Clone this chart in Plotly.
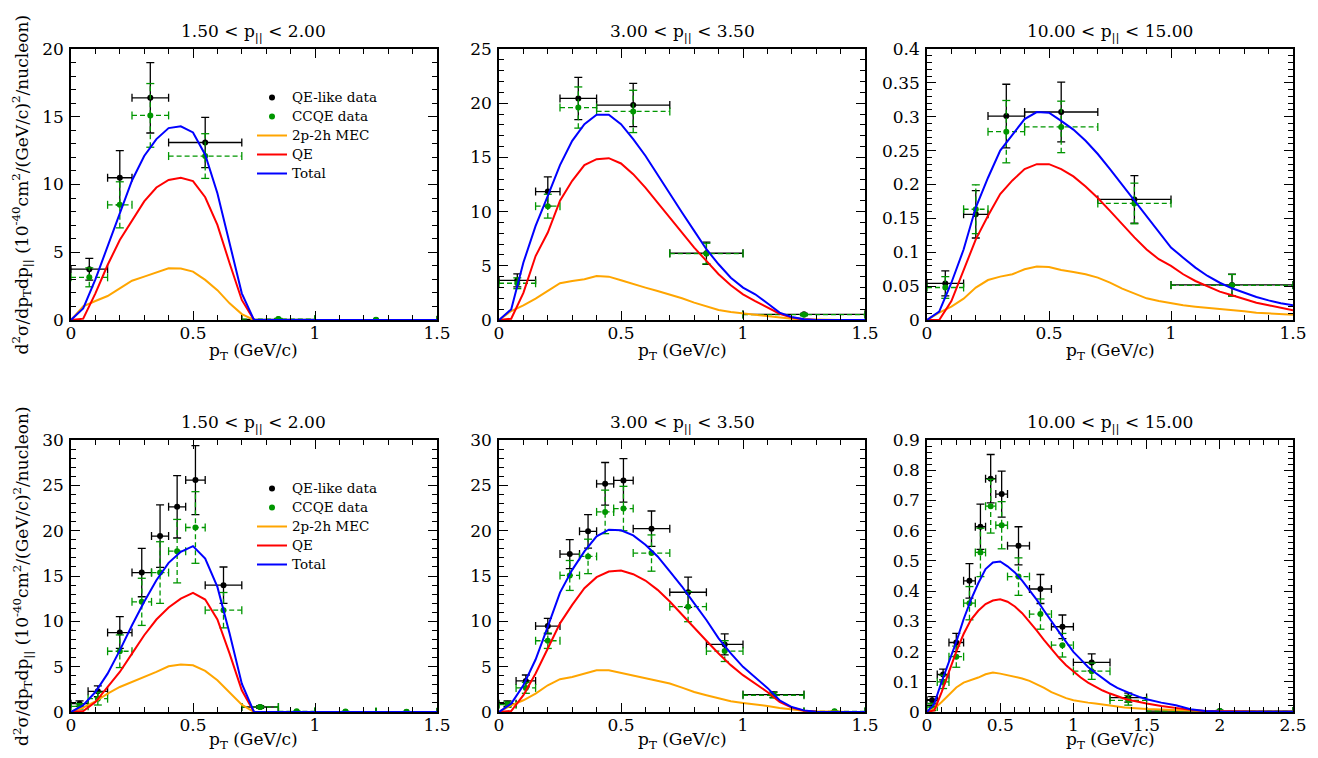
"""
MINERvA-style double-differential cross section in bins of p_T,
for three p_|| slices, QE-like vs CCQE data against model components.
"""

import plotly.graph_objects as go
from plotly.subplots import make_subplots

# ---------------------------------------------------------------------------
# Data
# ---------------------------------------------------------------------------

# p_T bin edges (GeV/c)
BINS_TOP = [0.0, 0.15, 0.25, 0.40, 0.70, 1.00, 1.50]
BINS_BOTTOM = [0.0, 0.07, 0.15, 0.25, 0.33, 0.40, 0.47, 0.55, 0.70, 0.85, 1.00, 1.25, 1.50]
BINS_BOTTOM_HI = [0.0, 0.07, 0.15, 0.25, 0.33, 0.40, 0.47, 0.55, 0.70, 0.85, 1.00, 1.25, 1.50, 2.50]

# top row data
QEL_1 = [3.75, 10.5, 16.4, 13.1, 0.05, 0.0]
QEL_ERR_1 = [0.8, 2.0, 2.6, 1.85, 0.05, 0.0]
CCQE_1 = [3.15, 8.5, 15.1, 12.1, 0.07, 0.01]
CCQE_ERR_1 = [0.7, 1.7, 2.35, 1.65, 0.05, 0.0]

QEL_2 = [3.66, 11.85, 20.44, 19.83, 6.16, 0.52]
QEL_ERR_2 = [0.6, 1.35, 1.95, 2.0, 1.03, 0.1]
CCQE_2 = [3.39, 10.5, 19.6, 19.24, 6.13, 0.49]
CCQE_ERR_2 = [0.5, 1.1, 1.9, 1.95, 0.95, 0.1]

QEL_3 = [0.054, 0.156, 0.301, 0.307, 0.178, 0.0517]
QEL_ERR_3 = [0.0185, 0.035, 0.047, 0.044, 0.035, 0.016]
CCQE_3 = [0.048, 0.1635, 0.278, 0.285, 0.172, 0.0512]
CCQE_ERR_3 = [0.016, 0.036, 0.046, 0.038, 0.03, 0.016]

# bottom row data
QEL_4 = [0.92, 2.28, 8.76, 15.38, 19.4, 22.63, 25.58, 13.99, 0.55, 0.0, 0.0, 0.0]
QEL_ERR_4 = [0.3, 0.6, 1.75, 2.67, 3.44, 3.44, 3.8, 2.0, 0.15, 0.0, 0.0, 0.0]
CCQE_4 = [0.63, 1.47, 6.7, 12.15, 15.38, 17.74, 20.35, 11.23, 0.55, 0.07, 0.05, 0.03]
CCQE_ERR_4 = [0.3, 0.7, 1.8, 2.6, 3.4, 3.5, 3.95, 1.95, 0.1, 0.02, 0.02, 0.02]

QEL_5 = [0.92, 3.43, 9.48, 17.42, 19.93, 25.17, 25.54, 20.22, 13.21, 7.45, 1.92, 0.02]
QEL_ERR_5 = [0.3, 0.65, 0.85, 1.6, 1.85, 2.35, 2.4, 1.95, 1.66, 1.16, 0.3, 0.02]
CCQE_5 = [0.81, 2.66, 7.86, 15.06, 17.16, 22.07, 22.44, 17.53, 11.62, 6.72, 1.85, 0.07]
CCQE_ERR_5 = [0.3, 0.6, 0.85, 1.65, 1.9, 2.4, 2.45, 2.0, 1.66, 1.15, 0.3, 0.02]

QEL_6 = [0.0387, 0.124, 0.23, 0.434, 0.613, 0.772, 0.721, 0.55, 0.407, 0.282, 0.164, 0.0476, 0.003]
QEL_ERR_6 = [0.012, 0.018, 0.03, 0.057, 0.075, 0.08, 0.076, 0.063, 0.048, 0.039, 0.028, 0.015, 0.002]
CCQE_6 = [0.0166, 0.0996, 0.183, 0.36, 0.528, 0.681, 0.618, 0.448, 0.324, 0.221, 0.135, 0.0387, 0.003]
CCQE_ERR_6 = [0.012, 0.022, 0.035, 0.055, 0.08, 0.089, 0.078, 0.062, 0.05, 0.039, 0.027, 0.016, 0.002]

# model curves (p_T grid in GeV/c)
MODEL_PT = [0.00, 0.05, 0.10, 0.15, 0.20, 0.25, 0.30, 0.35, 0.40, 0.45, 0.50,
            0.55, 0.60, 0.65, 0.70, 0.75, 0.80, 0.85, 0.90, 0.95, 1.00,
            1.05, 1.10, 1.15, 1.20, 1.25, 1.30, 1.35, 1.40, 1.45, 1.50]
MODEL_PT_WIDE = MODEL_PT + [1.6, 1.7, 1.8, 1.9, 2.0, 2.1, 2.2, 2.3, 2.4, 2.5]

TOT_1 = [0, 0.86, 3.0, 5.4, 7.9, 10.3, 12.1, 13.35, 14.16, 14.29, 13.84, 12.2, 9.36, 5.67, 1.97, 0,
         0, 0, 0, 0, 0, 0, 0, 0, 0, 0, 0, 0, 0, 0, 0]
QE_1 = [0, 0.1, 1.97, 4.06, 5.9, 7.3, 8.75, 9.78, 10.34, 10.49, 10.25, 9.06, 7.02, 4.19, 1.48, 0,
        0, 0, 0, 0, 0, 0, 0, 0, 0, 0, 0, 0, 0, 0, 0]
MEC_1 = [0, 1.0, 1.4, 1.77, 2.34, 2.9, 3.2, 3.5, 3.82, 3.8, 3.57, 2.96, 2.2, 1.23, 0.44, 0,
         0, 0, 0, 0, 0, 0, 0, 0, 0, 0, 0, 0, 0, 0, 0]

TOT_2 = [0, 0.98, 5.3, 8.68, 11.45, 14.29, 16.53, 18.07, 18.93, 18.93, 18.07, 16.69, 15.15, 13.39,
         11.6, 9.91, 8.22, 6.53, 5.14, 3.9, 2.99, 2.37, 1.54, 0.68, 0.28, 0.06, 0, 0, 0, 0, 0]
QE_2 = [0, 0.12, 2.5, 5.9, 8.07, 11.0, 12.84, 14.29, 14.84, 14.93, 14.44, 13.45, 12.22, 10.84,
        9.45, 8.07, 6.68, 5.45, 4.22, 3.2, 2.37, 1.75, 1.14, 0.58, 0.22, 0.06, 0, 0, 0, 0, 0]
MEC_2 = [0, 0.83, 1.35, 1.97, 2.68, 3.39, 3.6, 3.76, 4.06, 4.0, 3.66, 3.29, 2.99, 2.68,
         2.37, 2.0, 1.6, 1.23, 0.92, 0.74, 0.62, 0.49, 0.37, 0.22, 0.12, 0.06, 0.02, 0, 0, 0, 0]

TOT_3 = [0, 0.0123, 0.055, 0.104, 0.166, 0.21, 0.25, 0.274, 0.2966, 0.307, 0.306, 0.294, 0.281,
         0.2645, 0.245, 0.2227, 0.1995, 0.176, 0.154, 0.129, 0.107, 0.092, 0.0773, 0.065, 0.055,
         0.0468, 0.0404, 0.034, 0.029, 0.0246, 0.0217]
QE_3 = [0, 0, 0.028, 0.075, 0.119, 0.154, 0.186, 0.206, 0.2227, 0.23, 0.23, 0.2227, 0.212,
        0.197, 0.18, 0.161, 0.141, 0.122, 0.104, 0.0897, 0.0798, 0.0675, 0.0576, 0.0493, 0.0419,
        0.0365, 0.0305, 0.0256, 0.0217, 0.0182, 0.0143]
MEC_3 = [0, 0.0108, 0.0197, 0.0315, 0.0478, 0.059, 0.064, 0.0675, 0.0749, 0.0788, 0.0783, 0.0739,
         0.0709, 0.0675, 0.0626, 0.0552, 0.0463, 0.0389, 0.032, 0.028, 0.0246, 0.0217, 0.0197,
         0.0182, 0.0158, 0.0143, 0.0128, 0.0108, 0.0099, 0.0089, 0.0079]

TOT_4 = [0, 0.74, 2.2, 4.23, 6.8, 9.57, 12.15, 14.54, 16.45, 17.67, 18.29, 16.93, 13.8, 8.65, 3.13, 0,
         0, 0, 0, 0, 0, 0, 0, 0, 0, 0, 0, 0, 0, 0, 0]
QE_4 = [0, 0.1, 1.1, 2.76, 4.42, 6.44, 8.47, 10.2, 11.52, 12.51, 13.14, 12.4, 10.2, 6.44, 2.39, 0,
        0, 0, 0, 0, 0, 0, 0, 0, 0, 0, 0, 0, 0, 0, 0]
MEC_4 = [0, 0.48, 1.18, 2.02, 2.76, 3.31, 3.79, 4.42, 5.04, 5.23, 5.15, 4.53, 3.5, 2.21, 0.81, 0,
         0, 0, 0, 0, 0, 0, 0, 0, 0, 0, 0, 0, 0, 0, 0]

TOT_5 = [0, 0.92, 2.95, 5.79, 9.41, 13.17, 15.68, 17.71, 19.37, 20.11, 20.04, 19.48, 18.45, 17.16,
         15.5, 13.84, 11.99, 10.15, 8.12, 6.46, 4.98, 3.87, 2.66, 1.29, 0.55, 0.18, 0.02, 0, 0, 0, 0]
QE_5 = [0, 0.11, 1.85, 4.24, 7.01, 9.78, 11.81, 13.65, 14.87, 15.5, 15.61, 15.2, 14.5, 13.47,
        12.18, 10.7, 9.23, 7.86, 6.46, 5.17, 4.06, 3.14, 2.21, 1.11, 0.48, 0.15, 0.02, 0, 0, 0, 0]
MEC_5 = [0, 0.74, 1.29, 2.03, 2.95, 3.62, 3.87, 4.24, 4.61, 4.61, 4.32, 4.06, 3.8, 3.51,
         3.14, 2.69, 2.21, 1.85, 1.48, 1.18, 1.0, 0.85, 0.66, 0.44, 0.26, 0.15, 0.07, 0.03, 0.01, 0, 0]

TOT_6 = [0, 0.028, 0.1, 0.163, 0.232, 0.307, 0.371, 0.426, 0.473, 0.495, 0.498, 0.482, 0.462, 0.435,
         0.404, 0.371, 0.335, 0.299, 0.266, 0.232, 0.199, 0.174, 0.149, 0.13, 0.111, 0.094, 0.08,
         0.069, 0.059, 0.05, 0.042,
         0.031, 0.022, 0.009, 0.0035, 0.002, 0.0015, 0.001, 0.0008, 0.0006, 0.0005]
QE_6 = [0, 0.0055, 0.066, 0.133, 0.2, 0.258, 0.305, 0.335, 0.357, 0.369, 0.373, 0.365, 0.349, 0.327,
        0.299, 0.269, 0.238, 0.207, 0.18, 0.155, 0.133, 0.114, 0.097, 0.083, 0.071, 0.061, 0.052,
        0.044, 0.038, 0.032, 0.028,
        0.02, 0.013, 0.007, 0.003, 0.002, 0.0015, 0.001, 0.0008, 0.0006, 0.0005]
MEC_6 = [0, 0.011, 0.033, 0.058, 0.081, 0.097, 0.105, 0.114, 0.125, 0.131, 0.127, 0.122, 0.116, 0.111,
         0.103, 0.092, 0.08, 0.066, 0.055, 0.046, 0.039, 0.034, 0.031, 0.028, 0.024, 0.021, 0.018,
         0.015, 0.013, 0.011, 0.01,
         0.008, 0.006, 0.004, 0.003, 0.002, 0.0015, 0.001, 0.0008, 0.0006, 0.0005]

PPAR_TITLES = ["1.50 &lt; p<sub>||</sub> &lt; 2.00",
               "3.00 &lt; p<sub>||</sub> &lt; 3.50",
               "10.00 &lt; p<sub>||</sub> &lt; 15.00"]
X_TITLE = "p<sub>T</sub> (GeV/c)"
Y_TITLE = ("d<sup>2</sup>σ/dp<sub>T</sub>dp<sub>||</sub> "
           "(10<sup>-40</sup>cm<sup>2</sup>/(GeV/c)<sup>2</sup>/nucleon)")

# ---------------------------------------------------------------------------
# Styling
# ---------------------------------------------------------------------------
# page body keeps an 8px margin, so the figure is a bit smaller than the window
PAD = 8
W, H = 1318 - 2 * PAD, 758 - 2 * PAD
FONT = "DejaVu Serif"  # the serif face that reliably renders here
BLACK = "#000000"
GREEN = "#009600"
ORANGE = "#ffa500"
RED = "#ff0000"
BLUE = "#0000ff"

# plot-area boxes in window pixels: (left, right) and (top, bottom)
COL_PX = [(71, 437), (499, 865), (927, 1293)]
ROW_PX = [(49, 320), (440, 712)]


def px_x(x):
    return (x - PAD) / W


def px_y(y):
    return 1 - (y - PAD) / H


PANELS = [
    dict(row=1, col=1, bins=BINS_TOP, qel=QEL_1, qel_err=QEL_ERR_1, ccqe=CCQE_1, ccqe_err=CCQE_ERR_1,
         pt=MODEL_PT, tot=TOT_1, qe=QE_1, mec=MEC_1, xr=1.5, yr=20, ydt=5, ymdt=1, legend="legend"),
    dict(row=1, col=2, bins=BINS_TOP, qel=QEL_2, qel_err=QEL_ERR_2, ccqe=CCQE_2, ccqe_err=CCQE_ERR_2,
         pt=MODEL_PT, tot=TOT_2, qe=QE_2, mec=MEC_2, xr=1.5, yr=25, ydt=5, ymdt=1, legend=None),
    dict(row=1, col=3, bins=BINS_TOP, qel=QEL_3, qel_err=QEL_ERR_3, ccqe=CCQE_3, ccqe_err=CCQE_ERR_3,
         pt=MODEL_PT, tot=TOT_3, qe=QE_3, mec=MEC_3, xr=1.5, yr=0.4, ydt=0.05, ymdt=0.01, legend=None),
    dict(row=2, col=1, bins=BINS_BOTTOM, qel=QEL_4, qel_err=QEL_ERR_4, ccqe=CCQE_4, ccqe_err=CCQE_ERR_4,
         pt=MODEL_PT, tot=TOT_4, qe=QE_4, mec=MEC_4, xr=1.5, yr=30, ydt=5, ymdt=1, legend="legend2"),
    dict(row=2, col=2, bins=BINS_BOTTOM, qel=QEL_5, qel_err=QEL_ERR_5, ccqe=CCQE_5, ccqe_err=CCQE_ERR_5,
         pt=MODEL_PT, tot=TOT_5, qe=QE_5, mec=MEC_5, xr=1.5, yr=30, ydt=5, ymdt=1, legend=None),
    dict(row=2, col=3, bins=BINS_BOTTOM_HI, qel=QEL_6, qel_err=QEL_ERR_6, ccqe=CCQE_6, ccqe_err=CCQE_ERR_6,
         pt=MODEL_PT_WIDE, tot=TOT_6, qe=QE_6, mec=MEC_6, xr=2.5, yr=0.9, ydt=0.1, ymdt=0.02, legend=None),
]


def bin_centres(edges):
    return [(a + b) / 2 for a, b in zip(edges[:-1], edges[1:])]


def dashed_bars(edges, y, err):
    """Line segments for the horizontal/vertical error bars (dashed)."""
    xs, ys = [], []
    for lo, hi, yi, e in zip(edges[:-1], edges[1:], y, err):
        xc = (lo + hi) / 2
        xs += [lo, hi, None]
        ys += [yi, yi, None]
        if e > 0:
            xs += [xc, xc, None]
            ys += [yi - e, yi + e, None]
    return xs, ys


def bar_caps(edges, y, err, cx, cy):
    """Short solid caps at the ends of the error bars."""
    xs, ys = [], []
    for lo, hi, yi, e in zip(edges[:-1], edges[1:], y, err):
        xc = (lo + hi) / 2
        for xe in (lo, hi):
            xs += [xe, xe, None]
            ys += [yi - cy, yi + cy, None]
        if e > 0:
            for ye in (yi - e, yi + e):
                xs += [xc - cx, xc + cx, None]
                ys += [ye, ye, None]
    return xs, ys


def sized(text, size):
    return f'<span style="font-size:{size}px">{text}</span>'


fig = make_subplots(rows=2, cols=3)

for p in PANELS:
    r, c = p["row"], p["col"]
    centres = bin_centres(p["bins"])
    xlo = [x - a for x, a in zip(centres, p["bins"][:-1])]
    xhi = [b - x for x, b in zip(centres, p["bins"][1:])]
    show = p["legend"] is not None
    leg = p["legend"] or "legend"

    # half cap size converted from pixels to data units
    (l, rr), (t, b) = COL_PX[c - 1], ROW_PX[r - 1]
    cap_x = 4 * p["xr"] / (rr - l)
    cap_y = 4 * p["yr"] / (b - t)

    # QE-like data: black, solid error bars
    fig.add_trace(
        go.Scatter(
            x=centres, y=p["qel"], mode="markers", name=sized("QE-like data", 13.5),
            marker=dict(color=BLACK, size=6),
            error_x=dict(type="data", symmetric=False, array=xhi, arrayminus=xlo,
                         color=BLACK, thickness=1.3, width=4),
            error_y=dict(type="data", array=p["qel_err"], color=BLACK, thickness=1.3, width=4),
            showlegend=show, legend=leg,
        ),
        row=r, col=c,
    )

    # CCQE data: green, dashed error bars
    bx, by = dashed_bars(p["bins"], p["ccqe"], p["ccqe_err"])
    fig.add_trace(
        go.Scatter(x=bx, y=by, mode="lines", line=dict(color=GREEN, width=1.3, dash="5px,3px"),
                   showlegend=False, hoverinfo="skip"),
        row=r, col=c,
    )
    kx, ky = bar_caps(p["bins"], p["ccqe"], p["ccqe_err"], cap_x, cap_y)
    fig.add_trace(
        go.Scatter(x=kx, y=ky, mode="lines", line=dict(color=GREEN, width=1.3),
                   showlegend=False, hoverinfo="skip"),
        row=r, col=c,
    )
    fig.add_trace(
        go.Scatter(x=centres, y=p["ccqe"], mode="markers", name=sized("CCQE data", 13.5),
                   marker=dict(color=GREEN, size=6), showlegend=show, legend=leg),
        row=r, col=c,
    )

    # model curves
    for name, vals, color in (("2p-2h MEC", p["mec"], ORANGE),
                              ("QE", p["qe"], RED),
                              ("Total", p["tot"], BLUE)):
        fig.add_trace(
            go.Scatter(x=p["pt"], y=vals, mode="lines", name=sized(name, 13.5),
                       line=dict(color=color, width=2), showlegend=show, legend=leg),
            row=r, col=c,
        )

    axis_common = dict(
        showline=True, linecolor=BLACK, linewidth=1.5, mirror="allticks",
        ticks="inside", ticklen=9, tickwidth=1.2, tickcolor=BLACK,
        showgrid=False, zeroline=False,
        tickfont=dict(family=FONT, size=17, color=BLACK),
    )
    fig.update_xaxes(
        domain=[px_x(l), px_x(rr)], range=[0, p["xr"]], dtick=0.5, tick0=0,
        minor=dict(ticks="inside", ticklen=5, dtick=0.1, tickcolor=BLACK, showgrid=False),
        ticklabelstandoff=-3,
        row=r, col=c, **axis_common,
    )
    fig.update_yaxes(
        domain=[px_y(b), px_y(t)], range=[0, p["yr"]], dtick=p["ydt"], tick0=0,
        minor=dict(ticks="inside", ticklen=5, dtick=p["ymdt"], tickcolor=BLACK, showgrid=False),
        ticklabelstandoff=2,
        row=r, col=c, **axis_common,
    )

# titles and axis labels as annotations
annotations = []
for ri, (t, b) in enumerate(ROW_PX):
    for ci, (l, rr) in enumerate(COL_PX):
        xc = px_x((l + rr) / 2)
        annotations.append(dict(
            text=PPAR_TITLES[ci], x=xc, y=px_y(t - 17), xref="paper", yref="paper",
            xanchor="center", yanchor="middle", showarrow=False,
            font=dict(family=FONT, size=17, color=BLACK),
        ))
        annotations.append(dict(
            text=X_TITLE, x=xc, y=px_y(b + 31 if ri == 0 else b + 28),
            xref="paper", yref="paper",
            xanchor="center", yanchor="middle", showarrow=False,
            font=dict(family=FONT, size=17, color=BLACK),
        ))
    annotations.append(dict(
        text=Y_TITLE,
        x=px_x(22), y=px_y((t + b) / 2), xref="paper", yref="paper",
        xanchor="center", yanchor="middle", textangle=-90, showarrow=False,
        font=dict(family=FONT, size=17, color=BLACK),
    ))

legend_style = dict(
    xanchor="left", yanchor="top", bgcolor="rgba(0,0,0,0)", borderwidth=0,
    font=dict(family=FONT, size=12, color=BLACK), itemwidth=30, tracegroupgap=0,
)

fig.update_layout(
    width=W, height=H,
    margin=dict(l=0, r=0, t=0, b=0, autoexpand=False),
    paper_bgcolor="white", plot_bgcolor="white",
    annotations=annotations,
    legend=dict(x=px_x(252), y=px_y(83), **legend_style),
    legend2=dict(x=px_x(252), y=px_y(474), **legend_style),
)

fig.write_html("out.html")
